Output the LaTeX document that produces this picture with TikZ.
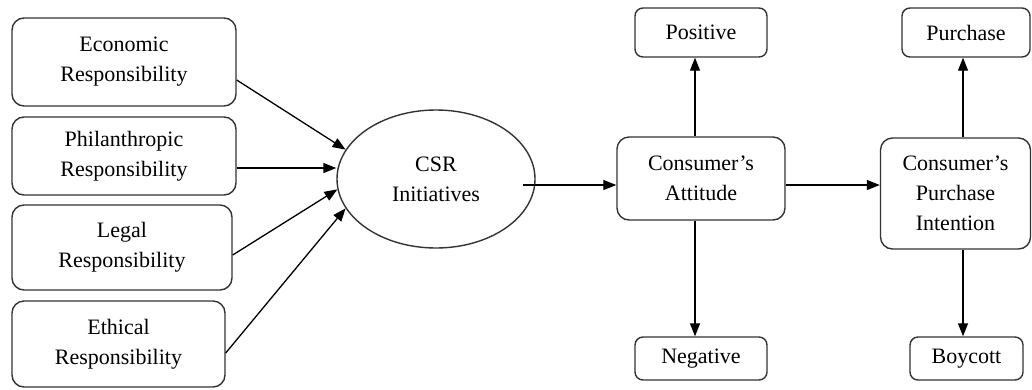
\documentclass[tikz,border=0pt]{standalone}
\usepackage{fontspec}
\setmainfont{Liberation Serif}
\usetikzlibrary{shapes.geometric,arrows.meta,calc}
\begin{document}
\begin{tikzpicture}[x=1pt,y=-1pt,
  box/.style={draw=black!80,line width=1.4pt,rounded corners=12pt,align=center,inner sep=0pt,font=\fontsize{22}{30}\selectfont},
  sbox/.style={box,rounded corners=8pt},
  arr/.style={line width=1.3pt,-{Triangle[length=13pt,width=10pt]}}]
\useasboundingbox (0,0) rectangle (1032,389);
\node[box,minimum width=224pt,minimum height=88pt] (econ) at (124,62) {Economic\\Responsibility};
\node[box,minimum width=224pt,minimum height=78pt] (phil) at (124,156) {Philanthropic\\Responsibility};
\node[box,minimum width=220pt,minimum height=85pt] (legal) at (122,247.5) {Legal\\Responsibility};
\node[box,minimum width=213pt,minimum height=86pt] (eth) at (118.5,344) {Ethical\\Responsibility};
\node[ellipse,draw=black!80,line width=1.4pt,minimum width=198pt,minimum height=138pt,align=center,inner sep=0pt,font=\fontsize{22}{30}\selectfont] (csr) at (436,179) {CSR\\Initiatives};
\node[box,minimum width=168pt,minimum height=83pt] (att) at (701,178.5) {Consumer’s\\Attitude};
\node[sbox,minimum width=132pt,minimum height=49pt] (pos) at (701,32.5) {Positive};
\node[sbox,minimum width=132pt,minimum height=43pt] (neg) at (701,358.5) {Negative};
\node[box,minimum width=150pt,minimum height=111pt] (pi) at (955.5,193.5) {Consumer’s\\Purchase\\Intention};
\node[sbox,minimum width=128pt,minimum height=49pt] (pur) at (966,32.5) {Purchase};
\node[sbox,minimum width=113pt,minimum height=43pt] (boy) at (966.5,358.5) {Boycott};
\coordinate (csrout) at (523,185);
\draw[arr] ([yshift=-18pt]econ.east) -- (csr.162.7);
\draw[arr] ([yshift=-12pt]phil.east) -- ([yshift=-12pt]phil.east -| csr.west);
\draw[arr] ([yshift=-7.5pt]legal.east) -- (csr.186);
\draw[arr] ([yshift=-9pt]eth.east) -- (csr.198.6);
\draw[arr] (csrout) -- (csrout -| att.west);
\draw[arr] ([yshift=-6.5pt]att.east) -- ([yshift=-6.5pt]att.east -| pi.west);
\draw[arr] ([xshift=-6pt]att.north) -- ([xshift=-6pt]pos.south);
\draw[arr] ([xshift=-6pt]att.south) -- ([xshift=-6pt]neg.north);
\draw[arr] ([xshift=7.5pt]pi.north) -- ([xshift=7.5pt]pi.north |- pur.south);
\draw[arr] ([xshift=7.5pt]pi.south) -- ([xshift=7.5pt]pi.south |- boy.north);
\end{tikzpicture}
\end{document}
